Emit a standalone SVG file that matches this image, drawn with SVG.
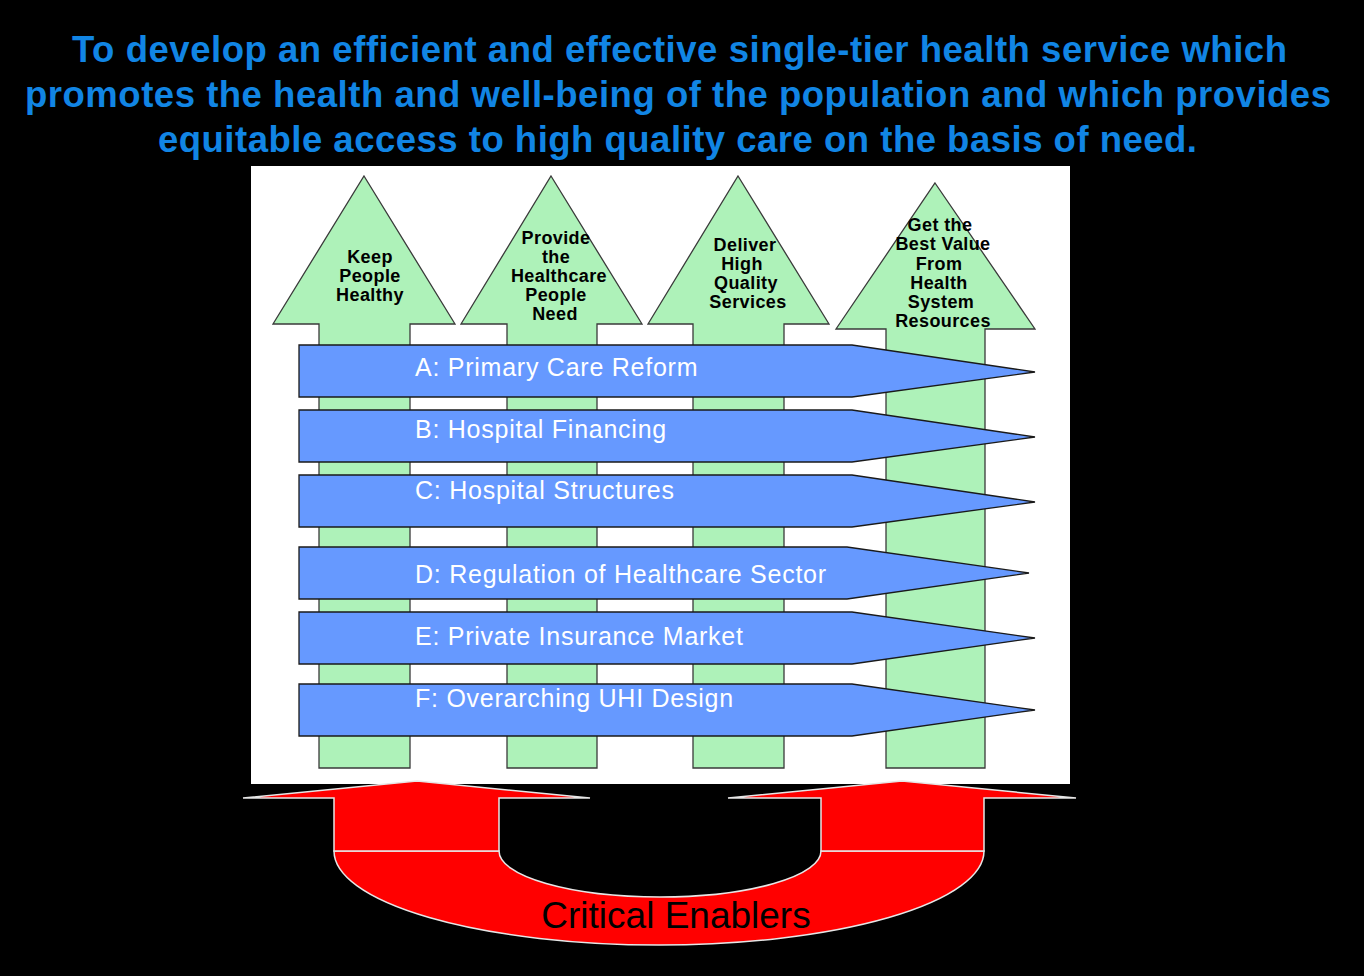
<svg xmlns="http://www.w3.org/2000/svg" width="1364" height="976" viewBox="0 0 1364 976">
<style>
.title{font-family:"Liberation Sans",Arial,sans-serif;font-weight:bold;font-size:36.5px;fill:#1185E4;text-anchor:middle}
.g{fill:#AEF2B9;stroke:#3a3a3a;stroke-width:1.3}
.gt{font-family:"Liberation Sans",Arial,sans-serif;font-weight:bold;font-size:18px;fill:#000;text-anchor:middle;letter-spacing:0.4px}
.b{fill:#6699FF;stroke:#1a1a1a;stroke-width:1.3}
.bt{font-family:"Liberation Sans",Arial,sans-serif;font-size:25px;fill:#fff;letter-spacing:0.75px}
.r{fill:#FF0000;stroke:#e6e6e6;stroke-width:1.5}
.rt{font-family:"Liberation Sans",Arial,sans-serif;font-size:37px;fill:#000;text-anchor:middle}
</style>
<rect x="0" y="0" width="1364" height="976" fill="#000"/>
<g id="title">
<text class="title" x="679.5" y="62" textLength="1215" lengthAdjust="spacing">To develop an efficient and effective single-tier health service which</text>
<text class="title" x="678" y="107" textLength="1306" lengthAdjust="spacing">promotes the health and well-being of the population and which provides</text>
<text class="title" x="677.5" y="152" textLength="1039" lengthAdjust="spacing">equitable access to high quality care on the basis of need.</text>
</g>
<rect id="panel" x="251" y="166" width="819" height="618" fill="#fff"/>
<g id="goal1">
<polygon class="g" points="364,176 455,324 410,324 410,768 319,768 319,324 273,324"/>
<text class="gt" x="370" y="263">Keep</text>
<text class="gt" x="370" y="282">People</text>
<text class="gt" x="370" y="301">Healthy</text>
</g>
<g id="goal2">
<polygon class="g" points="551,176 642,324 597,324 597,768 507,768 507,324 461,324"/>
<text class="gt" x="556" y="244">Provide</text>
<text class="gt" x="556" y="263">the</text>
<text class="gt" x="559" y="282">Healthcare</text>
<text class="gt" x="556" y="301">People</text>
<text class="gt" x="555" y="320">Need</text>
</g>
<g id="goal3">
<polygon class="g" points="738,176 829,324 784,324 784,768 693,768 693,324 648,324"/>
<text class="gt" x="745" y="251">Deliver</text>
<text class="gt" x="742" y="270">High</text>
<text class="gt" x="746" y="289">Quality</text>
<text class="gt" x="748" y="308">Services</text>
</g>
<g id="goal4">
<polygon class="g" points="935,183 1035,329 985,329 985,768 886,768 886,329 836,329"/>
<text class="gt" x="940" y="231">Get the</text>
<text class="gt" x="943" y="250">Best Value</text>
<text class="gt" x="939" y="270">From</text>
<text class="gt" x="939" y="289">Health</text>
<text class="gt" x="941" y="308">System</text>
<text class="gt" x="943" y="327">Resources</text>
</g>
<g id="streamA">
<polygon class="b" points="299,345 852,345 1035,372 852,397 299,397"/>
<text class="bt" x="415" y="376">A: Primary Care Reform</text>
</g>
<g id="streamB">
<polygon class="b" points="299,410 852,410 1035,437 852,462 299,462"/>
<text class="bt" x="415" y="438">B: Hospital Financing</text>
</g>
<g id="streamC">
<polygon class="b" points="299,475 852,475 1035,502 852,527 299,527"/>
<text class="bt" x="415" y="499">C: Hospital Structures</text>
</g>
<g id="streamD">
<polygon class="b" points="299,547 847,547 1029,573 847,599 299,599"/>
<text class="bt" x="415" y="583">D: Regulation of Healthcare Sector</text>
</g>
<g id="streamE">
<polygon class="b" points="299,612 852,612 1035,638 852,664 299,664"/>
<text class="bt" x="415" y="645">E: Private Insurance Market</text>
</g>
<g id="streamF">
<polygon class="b" points="299,684 852,684 1035,710 852,736 299,736"/>
<text class="bt" x="415" y="707">F: Overarching UHI Design</text>
</g>
<g id="enablers">
<path class="r" d="M334,851 A325,94 0 0 0 984,851 L821,851 A161,46 0 0 1 499,851 Z"/>
<polygon class="r" points="243,798 417,781 590,798 499,798 499,851 334,851 334,798"/>
<polygon class="r" points="728,798 902,781 1076,798 984,798 984,851 821,851 821,798"/>
<text class="rt" x="676" y="928">Critical Enablers</text>
</g>
</svg>
